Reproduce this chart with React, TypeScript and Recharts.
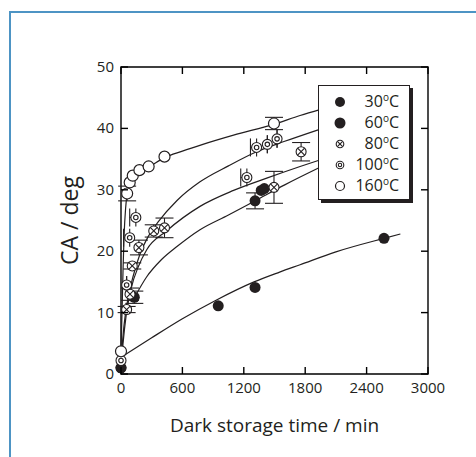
import React from 'react';
import { ComposedChart, Line, Scatter, XAxis, YAxis, ErrorBar, Legend, ReferenceArea } from 'recharts';

// measured contact angle (deg) vs dark storage time (min)
const t30 = [0, 950, 1310, 2570];
const ca30 = [1.0, 11.1, 14.1, 22.1];

const t60 = [0, 130, 1310, 1370, 1400];
const ca60 = [1.0, 12.5, 28.2, 29.9, 30.2];
const err60 = [0, 1.0, 1.3, 0, 0];

const t80 = [55, 88, 110, 175, 320, 425, 1495, 1760];
const ca80 = [10.5, 13.0, 17.6, 20.6, 23.3, 23.8, 30.4, 36.2];
const err80 = [0.5, 1.0, 0.5, 1.2, 1.0, 1.6, 2.6, 1.5];

const t100 = [0, 55, 85, 145, 1230, 1325, 1430, 1525];
const ca100 = [2.2, 14.5, 22.2, 25.5, 32.0, 36.9, 37.4, 38.3];
const errT100 = [0, 0, 60, 60, 60, 60, 0, 0];

const t160 = [0, 60, 85, 115, 180, 270, 425, 1495];
const ca160 = [3.7, 29.4, 31.2, 32.3, 33.2, 33.8, 35.4, 40.8];
const err160 = [0, 1.2, 0, 0, 0, 0, 0, 1.0];

// fitted curves
const fitT30 = [0, 300, 600, 915, 1300, 1550, 1750, 2100, 2570, 2730];
const fitCa30 = [2.7, 5.9, 9.0, 11.9, 15.0, 16.6, 17.8, 19.9, 22.1, 22.8];

const fitT60 = [130, 250, 394, 550, 772, 1050, 1309, 1600, 1950];
const fitCa60 = [12.4, 15.8, 18.6, 20.8, 23.5, 25.9, 28.2, 30.8, 33.7];

const fitT80 = [0, 20, 50, 100, 170, 250, 445, 772, 1100, 1424, 1750, 1950];
const fitCa80 = [1, 5, 9.5, 14, 17.5, 20.2, 23.3, 27.3, 29.9, 31.9, 33.8, 34.9];

const fitT100 = [0, 30, 70, 120, 185, 270, 365, 550, 772, 1050, 1325, 1600, 1950];
const fitCa100 = [2.2, 8, 12.5, 16, 19.5, 22.5, 24.8, 28.3, 31.3, 33.9, 36.2, 37.9, 39.9];

const fitT160 = [0, 10, 20, 30, 45, 60, 90, 130, 200, 300, 420, 600, 800, 1100, 1500, 1750, 1950];
const fitCa160 = [3.7, 10, 17, 22.5, 27, 29.3, 31, 32, 33, 34, 35.2, 36.3, 37.4, 38.9, 40.7, 42.1, 43.1];

const xTicks = [0, 600, 1200, 1800, 2400, 3000];
const yTicks = [0, 10, 20, 30, 40, 50];

const ink = '#231f20';
const font = '"Open Sans", sans-serif';

const pts = (t: number[], ca: number[], ey?: number[], ex?: number[]) =>
  t.map((v, i) => ({ t: v, ca: ca[i], ey: ey ? ey[i] : 0, ex: ex ? [ex[i], 0] : [0, 0] }));

type Kind = 'filled' | 'cross' | 'double' | 'open';

function Marker({ kind, cx, cy, r }: { kind: Kind; cx: number; cy: number; r: number }) {
  if (kind === 'filled') return <circle cx={cx} cy={cy} r={r} fill={ink} />;
  if (kind === 'cross') {
    const d = r * 0.7;
    return (
      <g stroke={ink} strokeWidth={1.1}>
        <circle cx={cx} cy={cy} r={r} fill="#fff" />
        <line x1={cx - d} y1={cy - d} x2={cx + d} y2={cy + d} />
        <line x1={cx - d} y1={cy + d} x2={cx + d} y2={cy - d} />
      </g>
    );
  }
  if (kind === 'double') {
    return (
      <g stroke={ink} strokeWidth={1.1}>
        <circle cx={cx} cy={cy} r={r} fill="#fff" />
        <circle cx={cx} cy={cy} r={r * 0.45} fill="none" />
      </g>
    );
  }
  return <circle cx={cx} cy={cy} r={r} fill="#fff" stroke={ink} strokeWidth={1.2} />;
}

const shape = (kind: Kind, r = 5) => (p: any) => <Marker kind={kind} cx={p.cx} cy={p.cy} r={r} />;

// ticks point inward, into the plot frame
const BottomTick = (p: any) => (
  <g>
    <path d={`M${p.x},${p.y}v-7`} stroke="#000" strokeWidth={1.4} fill="none" />
    <text x={p.x} y={p.y + 19} textAnchor="middle" fontSize={15} fontFamily={font} fill={ink}>
      {p.payload.value}
    </text>
  </g>
);
const TopTick = (p: any) => <path d={`M${p.x},${p.y}v7`} stroke="#000" strokeWidth={1.4} fill="none" />;
const LeftTick = (p: any) => (
  <g>
    <path d={`M${p.x},${p.y}h7`} stroke="#000" strokeWidth={1.4} fill="none" />
    <text x={p.x - 7} y={p.y + 5} textAnchor="end" fontSize={15} fontFamily={font} fill={ink}>
      {p.payload.value}
    </text>
  </g>
);
const RightTick = (p: any) => <path d={`M${p.x},${p.y}h-7`} stroke="#000" strokeWidth={1.4} fill="none" />;

const legendRows: { label: string; kind: Kind; r: number }[] = [
  { label: '30', kind: 'filled', r: 5 },
  { label: '60', kind: 'filled', r: 5.5 },
  { label: '80', kind: 'cross', r: 3.8 },
  { label: '100', kind: 'double', r: 3.8 },
  { label: '160', kind: 'open', r: 4.5 },
];

const LegendBox = () => (
  <div
    style={{
      width: 92,
      height: 115,
      boxSizing: 'border-box',
      border: `1px solid ${ink}`,
      boxShadow: `3px 3px 0 ${ink}`,
      background: '#fff',
      paddingTop: 6,
      fontFamily: font,
      fontSize: 16,
      color: ink,
    }}
  >
    {legendRows.map((row) => (
      <div key={row.label} style={{ height: 21, position: 'relative' }}>
        <svg width={14} height={14} style={{ position: 'absolute', left: 14, top: 3 }}>
          <Marker kind={row.kind} cx={7} cy={7} r={row.r} />
        </svg>
        <span style={{ position: 'absolute', right: 10, top: -1, lineHeight: '21px', whiteSpace: 'nowrap' }}>
          {row.label}
          <span style={{ fontSize: 10, position: 'relative', top: -6 }}>o</span>C
        </span>
      </div>
    ))}
  </div>
);

const noLine = false;

export default function App() {
  return (
    <div style={{ position: 'relative', width: 476, height: 457, background: '#fff' }}>
      <style>{'body{margin:0;overflow:hidden}'}</style>
      <div
        style={{
          position: 'absolute',
          left: 9,
          top: 11,
          width: 467,
          height: 446,
          boxSizing: 'border-box',
          borderLeft: '2px solid #4d94c4',
          borderTop: '2px solid #4d94c4',
        }}
      />
      <div style={{ position: 'absolute', left: 0, top: 0 }}>
        <ComposedChart width={476} height={457} margin={{ top: 66, right: 47, left: 19, bottom: 53 }}>
          <XAxis
            dataKey="t"
            type="number"
            domain={[0, 3000]}
            ticks={xTicks}
            height={30}
            axisLine={noLine}
            tickLine={false}
            tickSize={0}
            tickMargin={0}
            tick={<BottomTick />}
            label={{ value: 'Dark storage time / min', position: 'bottom', offset: 15, fontSize: 19, fontFamily: font, fill: ink }}
          />
          <XAxis
            xAxisId="top"
            dataKey="t"
            orientation="top"
            type="number"
            domain={[0, 3000]}
            ticks={xTicks}
            height={1}
            axisLine={noLine}
            tickLine={false}
            tickSize={0}
            tickMargin={0}
            tick={<TopTick />}
          />
          <YAxis
            type="number"
            domain={[0, 50]}
            ticks={yTicks}
            width={102}
            axisLine={noLine}
            tickLine={false}
            tickSize={0}
            tickMargin={0}
            tick={<LeftTick />}
            label={{ value: 'CA / deg', angle: -90, position: 'center', fontSize: 23, fontFamily: font, fill: ink }}
          />
          <YAxis
            yAxisId="right"
            orientation="right"
            type="number"
            domain={[0, 50]}
            ticks={yTicks}
            width={1}
            axisLine={noLine}
            tickLine={false}
            tickSize={0}
            tickMargin={0}
            tick={<RightTick />}
          />
          {/* plot frame */}
          <ReferenceArea x1={0} x2={3000} y1={0} y2={50} fill="none" stroke="#000" strokeWidth={1.4} ifOverflow="visible" />
          {/* invisible series so the mirrored axes get a domain */}
          <Line xAxisId="top" yAxisId="right" data={pts(fitT30, fitCa30)} dataKey="ca" stroke="none" dot={false} legendType="none" isAnimationActive={false} />
          <Line data={pts(fitT30, fitCa30)} dataKey="ca" type="monotone" stroke={ink} strokeWidth={1.2} dot={false} isAnimationActive={false} />
          <Line data={pts(fitT60, fitCa60)} dataKey="ca" type="monotone" stroke={ink} strokeWidth={1.2} dot={false} isAnimationActive={false} />
          <Line data={pts(fitT80, fitCa80)} dataKey="ca" type="monotone" stroke={ink} strokeWidth={1.2} dot={false} isAnimationActive={false} />
          <Line data={pts(fitT100, fitCa100)} dataKey="ca" type="monotone" stroke={ink} strokeWidth={1.2} dot={false} isAnimationActive={false} />
          <Line data={pts(fitT160, fitCa160)} dataKey="ca" type="monotone" stroke={ink} strokeWidth={1.2} dot={false} isAnimationActive={false} />
          <Scatter name="30" data={pts(t30, ca30)} dataKey="ca" shape={shape('filled', 5.5)} isAnimationActive={false} />
          <Scatter name="60" data={pts(t60, ca60, err60)} dataKey="ca" shape={shape('filled', 5.5)} isAnimationActive={false}>
            <ErrorBar dataKey="ey" direction="y" width={9} stroke={ink} strokeWidth={1.1} />
          </Scatter>
          <Scatter name="80" data={pts(t80, ca80, err80)} dataKey="ca" shape={shape('cross', 5)} isAnimationActive={false}>
            <ErrorBar dataKey="ey" direction="y" width={9} stroke={ink} strokeWidth={1.1} />
          </Scatter>
          <Scatter name="100" data={pts(t100, ca100, undefined, errT100)} dataKey="ca" shape={shape('double', 5)} isAnimationActive={false}>
            <ErrorBar dataKey="ex" direction="x" width={9} stroke={ink} strokeWidth={1.1} />
          </Scatter>
          <Scatter name="160" data={pts(t160, ca160, err160)} dataKey="ca" shape={shape('open', 5.5)} isAnimationActive={false}>
            <ErrorBar dataKey="ey" direction="y" width={9} stroke={ink} strokeWidth={1.1} />
          </Scatter>
          <Legend
            layout="vertical"
            align="center"
            verticalAlign="middle"
            content={<LegendBox />}
            wrapperStyle={{ left: 318, top: 85, width: 95, height: 118 }}
          />
        </ComposedChart>
      </div>
    </div>
  );
}
